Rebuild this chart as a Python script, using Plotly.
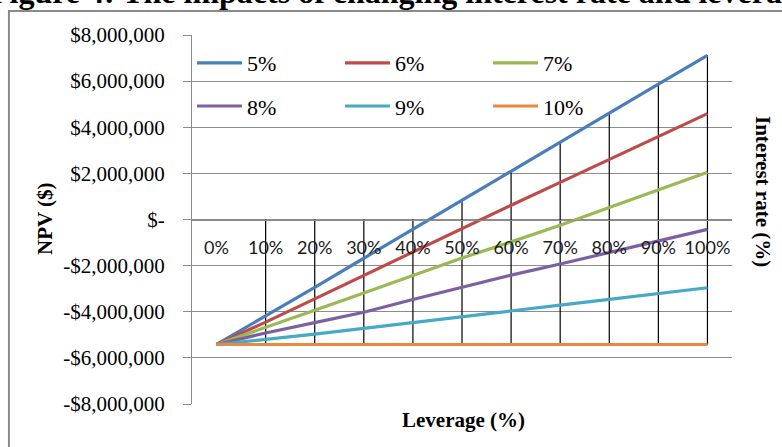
import plotly.graph_objects as go

# Leverage categories and NPV (in $) for each interest rate
leverage = ["0%", "10%", "20%", "30%", "40%", "50%", "60%", "70%", "80%", "90%", "100%"]
rates = ["5%", "6%", "7%", "8%", "9%", "10%"]

npv_5 = [-5420000, -4200000, -2940000, -1680000, -430000, 830000, 2090000, 3350000, 4610000, 5870000, 7120000]
npv_6 = [-5420000, -4450000, -3440000, -2420000, -1390000, -380000, 620000, 1610000, 2600000, 3600000, 4590000]
npv_7 = [-5420000, -4690000, -3930000, -3190000, -2420000, -1670000, -970000, -250000, 520000, 1300000, 2050000]
npv_8 = [-5420000, -4920000, -4470000, -4020000, -3470000, -2940000, -2410000, -1930000, -1430000, -960000, -430000]
npv_9 = [-5420000, -5210000, -4970000, -4720000, -4460000, -4220000, -3940000, -3710000, -3460000, -3220000, -2960000]
npv_10 = [-5420000, -5420000, -5420000, -5420000, -5420000, -5420000, -5420000, -5420000, -5420000, -5420000, -5420000]

series = [npv_5, npv_6, npv_7, npv_8, npv_9, npv_10]
colors = ["#4A7EBB", "#BE4B48", "#98B954", "#7D60A0", "#46AAC5", "#E8893F"]

y_tickvals = [8000000, 6000000, 4000000, 2000000, 0, -2000000, -4000000, -6000000, -8000000]
y_ticktext = ["$8,000,000", "$6,000,000", "$4,000,000", "$2,000,000", "$-",
              "-$2,000,000", "-$4,000,000", "-$6,000,000", "-$8,000,000"]

SERIF = "Liberation Serif, Times New Roman, serif"
GRID = "#8c8c8c"

fig = go.Figure()

# High-low lines: from the higher of zero and the top series down to the lowest series
hl_x, hl_y = [], []
for i, cat in enumerate(leverage):
    if i == 0:
        continue
    vals = [s[i] for s in series]
    hl_x += [cat, cat, None]
    hl_y += [max(0, max(vals)), min(vals), None]
fig.add_trace(go.Scatter(x=hl_x, y=hl_y, mode="lines", line=dict(color="#000000", width=1.2),
                         showlegend=False, hoverinfo="skip"))

for k, (name, vals, col) in enumerate(zip(rates, series, colors)):
    fig.add_trace(go.Scatter(
        x=leverage, y=vals, name=name, mode="lines",
        line=dict(color=col, width=3.2),
        legend="legend" if k < 3 else "legend2",
    ))

legend_common = dict(
    orientation="h", xanchor="left", yanchor="middle",
    entrywidth=88, entrywidthmode="pixels", itemwidth=45,
    font=dict(family=SERIF, size=22, color="#000000"),
    bgcolor="rgba(0,0,0,0)", borderwidth=0,
)

fig.update_layout(
    width=782, height=447,
    margin=dict(l=192, r=50, t=35, b=43),
    paper_bgcolor="white", plot_bgcolor="white",
    font=dict(family=SERIF, color="#000000"),
    showlegend=True,
    legend=dict(x=0.0, y=0.924, **legend_common),
    legend2=dict(x=0.0, y=0.807, **legend_common),
    xaxis=dict(
        type="category", range=[-0.5, 10.5],
        categoryorder="array", categoryarray=leverage,
        anchor="free", position=0.5,
        showline=True, linecolor=GRID, linewidth=1,
        showgrid=False, ticks="", zeroline=False,
        tickfont=dict(family="Lato, Open Sans, sans-serif", size=18, color="#1a1a1a"),
        ticklabelstandoff=12,
    ),
    yaxis=dict(
        range=[-8000000, 8000000],
        tickvals=y_tickvals, ticktext=y_ticktext,
        showline=True, linecolor=GRID, linewidth=1,
        ticks="outside", ticklen=8, tickcolor=GRID,
        showgrid=True, gridcolor=GRID, gridwidth=1, zeroline=False,
        tickfont=dict(family=SERIF, size=21, color="#000000"),
        ticklabelstandoff=14,
    ),
    shapes=[dict(
        type="rect", xref="paper", yref="paper",
        x0=-0.339, x1=1.15, y0=-0.2, y1=1.065,
        line=dict(color="#8a8a8a", width=2), fillcolor="rgba(0,0,0,0)", layer="below",
    )],
    annotations=[
        dict(text="<b>Figure 4: The impacts of changing interest rate and leverage</b>",
             xref="paper", yref="paper", x=-0.378, y=1.061, xanchor="left", yanchor="bottom",
             showarrow=False, font=dict(family=SERIF, size=32, color="#000000")),
        dict(text="<b>NPV ($)</b>", xref="paper", yref="paper",
             x=(45 - 192) / 540, y=(404 - 219) / 369, xanchor="center", yanchor="middle",
             textangle=-90, showarrow=False, font=dict(family=SERIF, size=21, color="#000000")),
        dict(text="<b>Interest rate (%)</b>", xref="paper", yref="paper",
             x=(763 - 192) / 540, y=(404 - 191) / 369, xanchor="center", yanchor="middle",
             textangle=90, showarrow=False, font=dict(family=SERIF, size=21, color="#000000")),
        dict(text="<b>Leverage (%)</b>", xref="paper", yref="paper",
             x=(463 - 192) / 540, y=(404 - 420) / 369, xanchor="center", yanchor="middle",
             showarrow=False, font=dict(family=SERIF, size=21, color="#000000")),
    ],
)

fig.write_html("out.html")
